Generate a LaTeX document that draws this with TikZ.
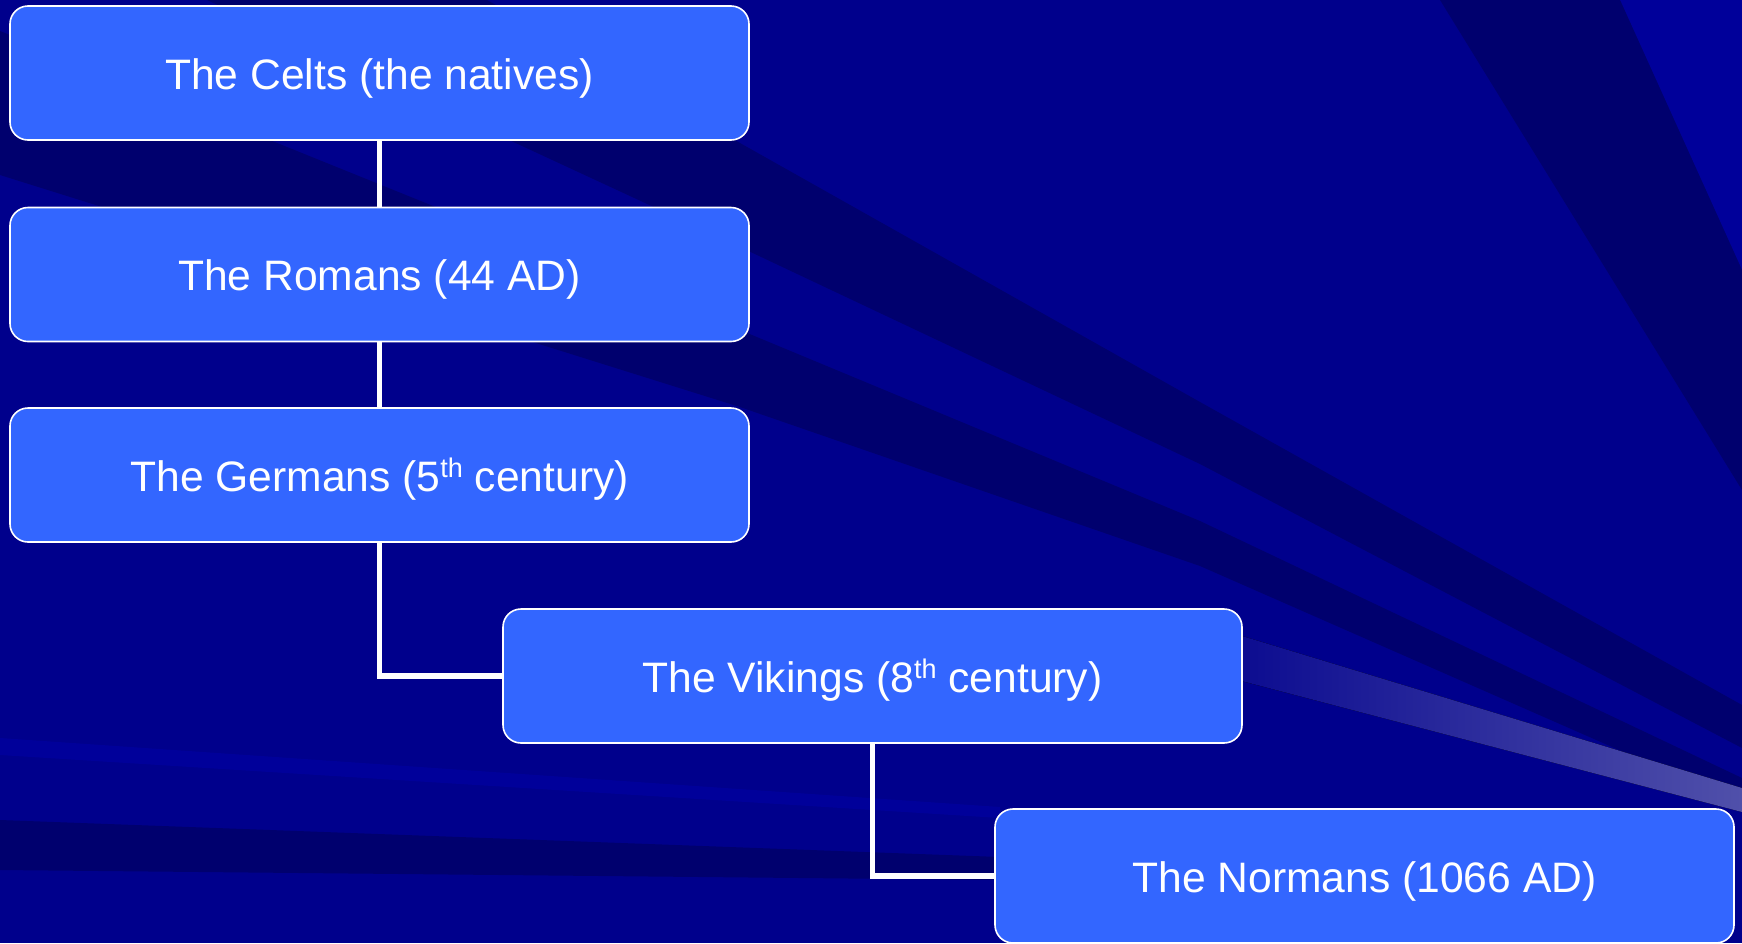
\documentclass[tikz,border=0pt]{standalone}
\usepackage{fontspec}
\setmainfont{Liberation Sans}
\definecolor{bgbase}{RGB}{0,0,140}
\definecolor{bgdark}{RGB}{0,0,110}
\definecolor{bglight}{RGB}{0,0,154}
\definecolor{streak}{RGB}{80,80,170}
\definecolor{boxfill}{RGB}{51,102,255}
\newcommand\ordsup[1]{\raisebox{14pt}{\fontsize{27}{27}\selectfont #1}}
\begin{document}
\begin{tikzpicture}[x=1pt,y=-1pt,
  stagebox/.style={draw=white, line width=1.6pt, fill=boxfill, rounded corners=18pt,
    minimum width=739pt, minimum height=134pt, inner sep=0pt, text=white,
    text height=36pt, text depth=4pt,
    font=\fontsize{42.6}{50}\selectfont},
  link/.style={draw=white, line width=5.5pt},
  darkband/.style={fill=bgdark},
  lightband/.style={fill=bglight}]
\useasboundingbox (0,0) rectangle (1742,943);
\begin{scope}
  \clip (0,0) rectangle (1742,943);
  \fill[bgbase] (0,0) rectangle (1742,943);
  % upper-right rays
  \fill[lightband] (1620,0) -- (1742,0) -- (1742,270) -- cycle;
  \fill[darkband] (1440,0) -- (1620,0) -- (1742,270) -- (1742,490) -- cycle;
  % long dark rays
  \fill[darkband] (487,0) -- (740,143) -- (1200,402) -- (1742,705) -- (1742,748)
    -- (1200,464) -- (740,247) -- (207,0) -- cycle;
  \fill[darkband] (0,31) -- (740,330) -- (1200,521) -- (1742,778) -- (1742,804)
    -- (1200,566) -- (740,407) -- (0,175) -- cycle;
  % bottom-left rays
  \fill[lightband] (0,738) -- (1000,807) -- (1000,818) -- (0,755) -- cycle;
  \fill[darkband] (0,820) -- (1000,857) -- (1000,880) -- (0,870) -- cycle;
  % light streak
  \fill[left color=bgbase, right color=streak] (1150,608) -- (1742,788) -- (1742,812) -- (1150,657) -- cycle;
\end{scope}

\node[stagebox] (celts) at (379.5,73) {The Celts (the natives)};
\node[stagebox] (romans) at (379.5,274.5) {The Romans (44 AD)};
\node[stagebox] (germans) at (379.5,475) {The Germans (5\ordsup{th} century)};
\node[stagebox] (vikings) at (872.5,676) {The Vikings (8\ordsup{th} century)};
\node[stagebox] (normans) at (1364.5,876) {The Normans (1066 AD)};

\draw[link] (celts.south) -- (romans.north);
\draw[link] (romans.south) -- (germans.north);
\draw[link] (germans.south) |- (vikings.west);
\draw[link] (vikings.south) |- (normans.west);
\end{tikzpicture}
\end{document}
